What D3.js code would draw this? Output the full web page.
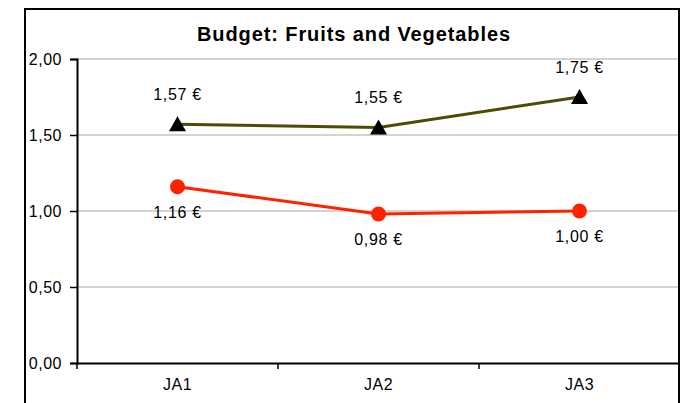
<!DOCTYPE html>
<html>
<head>
<meta charset="utf-8">
<script src="https://cdn.jsdelivr.net/npm/d3@7"></script>
<style>
  body { margin: 0; background: #fff; }
  text { font-family: "Liberation Sans", Arial, sans-serif; fill: #000; }
</style>
</head>
<body>
<script>
// chart data
var categories = ["JA1", "JA2", "JA3"];
var budgetTop = [1.57, 1.55, 1.75];     // triangles
var budgetBottom = [1.16, 0.98, 1.00];  // circles
var yTicks = [0, 0.5, 1, 1.5, 2];

var width = 680, height = 403;
var plotLeft = 77, plotRight = 680, plotTop = 59, plotBottom = 363;

var fr = d3.formatLocale({decimal: ",", thousands: ".", grouping: [3], currency: ["", " €"]});
var fmt = fr.format(".2f");

var svg = d3.select("body").append("svg")
    .attr("width", width)
    .attr("height", height);

var x = d3.scaleBand().domain(categories).range([plotLeft, plotRight]).padding(0);
var y = d3.scaleLinear().domain([0, 2]).range([plotBottom, plotTop]);

// gridlines
svg.selectAll("line.grid")
  .data(yTicks.slice(1))
  .enter().append("line")
    .attr("class", "grid")
    .attr("x1", plotLeft).attr("x2", plotRight)
    .attr("y1", function(d) { return y(d); })
    .attr("y2", function(d) { return y(d); })
    .attr("stroke", "#c4c4c4")
    .attr("stroke-width", 1.5);

// y axis
var yAxis = svg.append("g")
    .attr("transform", "translate(" + plotLeft + ",0)")
    .call(d3.axisLeft(y).tickValues(yTicks).tickFormat(fmt).tickSize(7).tickPadding(8));
yAxis.select(".domain").attr("stroke", "#000").attr("stroke-width", 2);
yAxis.selectAll(".tick line").attr("stroke", "#000").attr("stroke-width", 1.5);
yAxis.selectAll(".tick text")
    .style("font-size", "16px")
    .style("letter-spacing", "0.5px")
    .attr("dy", "0.34em");

// x axis
var xAxis = svg.append("g")
    .attr("transform", "translate(0," + plotBottom + ")")
    .call(d3.axisBottom(x).tickSize(0).tickPadding(16));
xAxis.select(".domain").attr("stroke", "#000").attr("stroke-width", 2);
xAxis.selectAll(".tick text")
    .style("font-size", "16px")
    .style("letter-spacing", "0.5px");

// category separator ticks
svg.selectAll("line.sep")
  .data(categories)
  .enter().append("line")
    .attr("class", "sep")
    .attr("x1", function(d) { return x(d); })
    .attr("x2", function(d) { return x(d); })
    .attr("y1", plotBottom).attr("y2", plotBottom + 6)
    .attr("stroke", "#000")
    .attr("stroke-width", 1.5);

var line = d3.line()
    .x(function(d, i) { return x(categories[i]) + x.bandwidth() / 2; })
    .y(function(d) { return y(d); });

// olive series
svg.append("path")
    .datum(budgetTop)
    .attr("d", line)
    .attr("fill", "none")
    .attr("stroke", "#4d4d00")
    .attr("stroke-width", 3);

svg.selectAll("path.tri")
  .data(budgetTop)
  .enter().append("path")
    .attr("class", "tri")
    .attr("d", "M0,-8L8.5,7L-8.5,7Z")
    .attr("transform", function(d, i) {
      return "translate(" + (x(categories[i]) + x.bandwidth() / 2) + "," + y(d) + ")";
    })
    .attr("fill", "#000");

svg.selectAll("text.lblTop")
  .data(budgetTop)
  .enter().append("text")
    .attr("class", "lblTop")
    .attr("x", function(d, i) { return x(categories[i]) + x.bandwidth() / 2; })
    .attr("y", function(d) { return y(d) - 24; })
    .attr("text-anchor", "middle")
    .style("font-size", "16px")
    .style("letter-spacing", "0.7px")
    .text(function(d) { return fmt(d) + " €"; });

// red series
svg.append("path")
    .datum(budgetBottom)
    .attr("d", line)
    .attr("fill", "none")
    .attr("stroke", "#ff2200")
    .attr("stroke-width", 3);

svg.selectAll("circle.pt")
  .data(budgetBottom)
  .enter().append("circle")
    .attr("class", "pt")
    .attr("cx", function(d, i) { return x(categories[i]) + x.bandwidth() / 2; })
    .attr("cy", function(d) { return y(d); })
    .attr("r", 7.5)
    .attr("fill", "#ff2200");

svg.selectAll("text.lblBot")
  .data(budgetBottom)
  .enter().append("text")
    .attr("class", "lblBot")
    .attr("x", function(d, i) { return x(categories[i]) + x.bandwidth() / 2; })
    .attr("y", function(d) { return y(d) + 31; })
    .attr("text-anchor", "middle")
    .style("font-size", "16px")
    .style("letter-spacing", "0.7px")
    .text(function(d) { return fmt(d) + " €"; });

// title
svg.append("text")
    .attr("x", 354)
    .attr("y", 41)
    .attr("text-anchor", "middle")
    .style("font-size", "20px")
    .style("font-weight", "bold")
    .style("letter-spacing", "0.9px")
    .text("Budget: Fruits and Vegetables");

// chart frame
svg.append("rect")
    .attr("x", 25).attr("y", 9)
    .attr("width", 654).attr("height", 420)
    .attr("fill", "none")
    .attr("stroke", "#000")
    .attr("stroke-width", 2);
</script>
</body>
</html>
